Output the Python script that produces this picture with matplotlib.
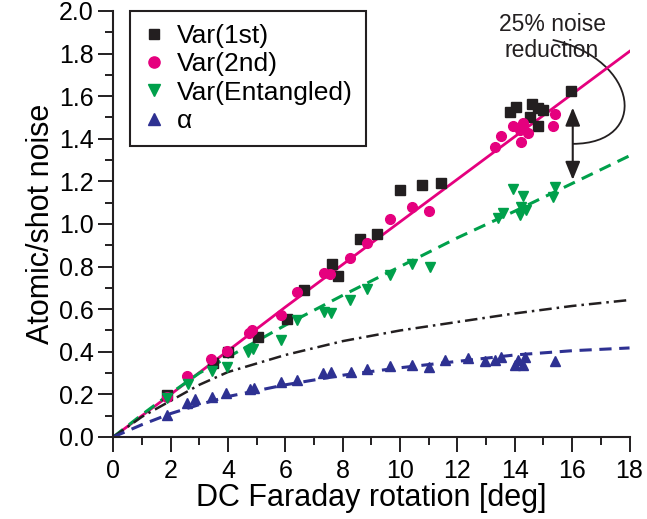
import matplotlib
matplotlib.use("Agg")
import matplotlib.pyplot as plt
from matplotlib.path import Path
from matplotlib.patches import PathPatch

plt.rcParams['font.family'] = ['Liberation Sans', 'DejaVu Sans']

# ---- data ----
var1_x = [1.88, 3.48, 4.0, 5.03, 6.04, 6.66, 7.64, 7.84, 8.6, 9.18, 10.0, 10.78, 11.44,
          13.82, 14.05, 14.61, 14.81, 15.0, 14.54, 14.81, 15.97]
var1_y = [0.197, 0.346, 0.40, 0.468, 0.555, 0.69, 0.81, 0.757, 0.93, 0.953, 1.158, 1.183, 1.194,
          1.524, 1.55, 1.561, 1.546, 1.535, 1.50, 1.458, 1.624]

var2_x = [1.86, 2.56, 3.40, 3.95, 4.74, 4.85, 5.85, 6.42, 7.34, 7.57, 8.27, 8.83, 9.66, 10.42,
          11.01, 13.3, 13.53, 13.92, 14.17, 14.29, 14.46, 14.23, 15.39, 15.33]
var2_y = [0.189, 0.288, 0.366, 0.405, 0.49, 0.50, 0.573, 0.682, 0.768, 0.764, 0.839, 0.909, 1.022,
          1.081, 1.061, 1.363, 1.415, 1.462, 1.441, 1.472, 1.425, 1.386, 1.515, 1.458]

ent_x = [1.86, 2.61, 3.43, 3.95, 4.70, 4.88, 5.84, 6.42, 7.34, 7.6, 8.27, 8.86, 9.64, 10.42,
         11.03, 13.42, 13.59, 13.92, 14.27, 14.23, 14.4, 14.17, 15.39, 15.33]
ent_y = [0.183, 0.249, 0.311, 0.33, 0.40, 0.412, 0.457, 0.548, 0.588, 0.58, 0.643, 0.693, 0.76,
         0.812, 0.797, 1.027, 1.05, 1.163, 1.132, 1.079, 1.066, 1.042, 1.175, 1.125]

alpha_x = [1.86, 2.56, 2.85, 3.43, 3.93, 4.76, 4.9, 5.84, 6.40, 7.32, 7.6, 8.3, 8.83, 9.66,
           10.42, 11.01, 11.55, 12.37, 12.95, 13.3, 13.53, 14.11, 14.35, 14.0, 14.29, 15.39]
alpha_y = [0.103, 0.158, 0.18, 0.189, 0.205, 0.225, 0.228, 0.257, 0.267, 0.30, 0.306, 0.307,
           0.318, 0.333, 0.338, 0.33, 0.363, 0.37, 0.355, 0.362, 0.377, 0.362, 0.377, 0.338,
           0.338, 0.355]

# theory curves
fit_x = [0, 2, 4, 6, 8, 10, 12, 14, 16, 18]
fit_var = [0, 0.20, 0.405, 0.61, 0.81, 1.01, 1.21, 1.41, 1.61, 1.81]
curve_x = [0, 1, 2, 3, 4, 6, 8, 10, 12, 14, 16, 18]
fit_ent = [0, 0.105, 0.205, 0.30, 0.375, 0.525, 0.665, 0.80, 0.935, 1.06, 1.19, 1.32]
fit_dd = [0, 0.095, 0.17, 0.245, 0.305, 0.385, 0.45, 0.50, 0.54, 0.58, 0.615, 0.643]
fit_alpha = [0, 0.058, 0.11, 0.152, 0.19, 0.245, 0.29, 0.325, 0.355, 0.385, 0.405, 0.418]

labels = ['Var(1st)', 'Var(2nd)', 'Var(Entangled)', '\u03b1']
c_black = '#231f20'
c_mag = '#e5007e'
c_green = '#00a04b'
c_blue = '#2e3192'

fig = plt.figure(figsize=(6.47, 5.19), dpi=100)
ax = fig.add_axes([0.1751, 0.1580, 0.7979, 0.8210])

ax.plot(fit_x, fit_var, '-', color=c_mag, lw=2.0, zorder=2)
ax.plot(curve_x, fit_ent, '--', color=c_green, lw=2.2, dashes=(4, 2.5), zorder=2)
ax.plot(curve_x, fit_dd, '-.', color=c_black, lw=1.8, dashes=(5, 2, 1, 2), zorder=2)
ax.plot(curve_x, fit_alpha, '--', color=c_blue, lw=2.2, dashes=(4, 2.5), zorder=2)

ax.plot(var1_x, var1_y, 's', color=c_black, ms=6.5, ls='none', label=labels[0], zorder=3)
ax.plot(var2_x, var2_y, 'o', color=c_mag, ms=7, ls='none', label=labels[1], zorder=3)
ax.plot(ent_x, ent_y, 'v', color=c_green, ms=7.5, ls='none', label=labels[2], zorder=3)
ax.plot(alpha_x, alpha_y, '^', color=c_blue, ms=7.5, ls='none', label=labels[3], zorder=3)

ax.set_xlim(0, 18)
ax.set_ylim(0, 2.0)
ax.set_xticks(range(0, 19, 2))
ax.set_xticks(range(1, 18, 2), minor=True)
ax.set_yticks([i * 0.2 for i in range(11)])
ax.set_yticks([0.1 + i * 0.2 for i in range(10)], minor=True)
ax.set_yticklabels([f'{i * 0.2:.1f}' for i in range(11)])

for s in ['top', 'right']:
    ax.spines[s].set_visible(False)
for s in ['left', 'bottom']:
    ax.spines[s].set_linewidth(1.5)
    ax.spines[s].set_color('#231f20')

ax.tick_params(which='major', direction='out', length=11, width=1.4, labelsize=18,
               color='#231f20', pad=3)
ax.tick_params(which='minor', direction='out', length=6, width=1.4, color='#231f20')
ax.tick_params(axis='x', which='major', pad=5)

ax.set_xlabel('DC Faraday rotation [deg]', fontsize=22, labelpad=0)
ax.set_ylabel('Atomic/shot noise', fontsize=22, labelpad=2)

leg = ax.legend(loc='upper left', bbox_to_anchor=(0.032, 1.0), borderaxespad=0,
                fontsize=19, frameon=True, fancybox=False, edgecolor='#231f20',
                framealpha=1, handlelength=0.8, handletextpad=0.5, labelspacing=0.16,
                borderpad=0.5, markerscale=1.15)
leg.get_frame().set_linewidth(1.5)

# annotation
ax.text(15.3, 1.875, '25% noise\nreduction', fontsize=16.5, ha='center', va='center',
        linespacing=1.15, color='#231f20')
verts = [(15.32, 1.864), (18.35, 1.77), (18.70, 1.376), (16.02, 1.376)]
codes = [Path.MOVETO, Path.CURVE4, Path.CURVE4, Path.CURVE4]
ax.add_patch(PathPatch(Path(verts, codes), fill=False, lw=1.3, color='#231f20',
                       clip_on=False))
ax.annotate('', xy=(16.02, 1.546), xytext=(16.02, 1.207),
            arrowprops=dict(arrowstyle='<|-|>,head_length=1.1,head_width=0.45',
                            color='#231f20', lw=1.5, shrinkA=0, shrinkB=0))

fig.savefig('out.png', dpi=100)
